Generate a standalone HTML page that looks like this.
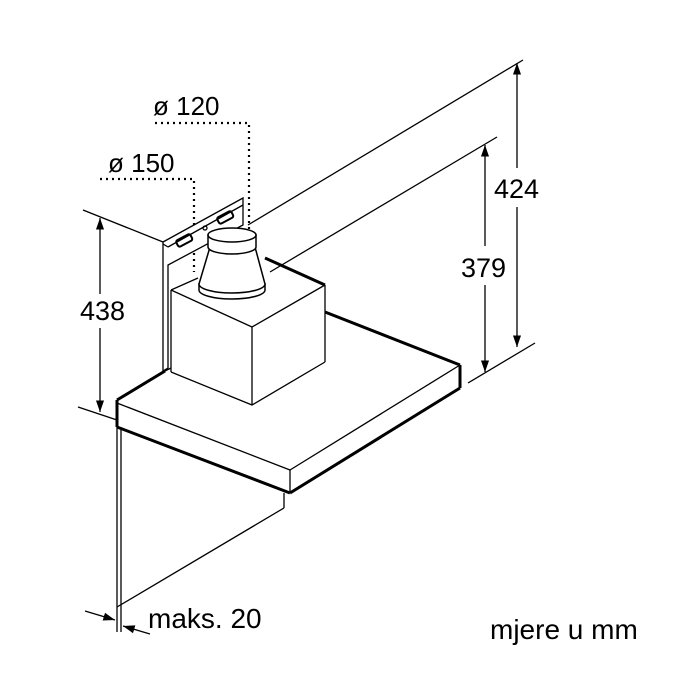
<!DOCTYPE html>
<html><head><style>html,body{margin:0;padding:0;background:#fff}svg{display:block}text{font-family:"Liberation Sans",sans-serif;fill:#000}</style></head>
<body>
<svg width="700" height="700" viewBox="0 0 700 700" xmlns="http://www.w3.org/2000/svg">
<defs>
<marker id="a" viewBox="0 0 10 10" refX="10" refY="5" markerWidth="9" markerHeight="9" orient="auto-start-reverse"><path d="M0,1.5 L10,5 L0,8.5 z" fill="#000"/></marker>
</defs>
<g stroke="#000" fill="none" stroke-width="1.3">
<line x1="83" y1="210" x2="163" y2="242"/>
<line x1="78" y1="407" x2="117" y2="420"/>
<line x1="248" y1="225" x2="523" y2="60"/>
<line x1="270" y1="272" x2="497" y2="137"/>
<line x1="468" y1="383" x2="535" y2="343"/>
<line x1="100" y1="218" x2="100" y2="294" marker-start="url(#a)"/>
<line x1="100" y1="328" x2="100" y2="412" marker-end="url(#a)"/>
<line x1="517" y1="63" x2="517" y2="168" marker-start="url(#a)"/>
<line x1="517" y1="207" x2="517" y2="347" marker-end="url(#a)"/>
<line x1="485" y1="145" x2="485" y2="246" marker-start="url(#a)"/>
<line x1="485" y1="285" x2="485" y2="372" marker-end="url(#a)"/>
<polyline points="155,123 249,123 249,237" stroke-dasharray="2 4" stroke-width="2.2"/>
<polyline points="100,179 194,179 194,272" stroke-dasharray="2 4" stroke-width="2.2"/>
<line x1="117" y1="427" x2="117" y2="632"/>
<line x1="121" y1="427" x2="121" y2="632"/>
<line x1="117" y1="607" x2="284" y2="508"/>
<line x1="284" y1="493" x2="284" y2="508"/>
<line x1="85" y1="611" x2="115" y2="620" marker-end="url(#a)"/>
<line x1="150" y1="634" x2="123" y2="626" marker-end="url(#a)"/>
<line x1="117" y1="403" x2="290" y2="470"/>
<line x1="290" y1="470" x2="460" y2="365"/>
<line x1="290" y1="470" x2="290" y2="493"/>
<line x1="165" y1="371" x2="171" y2="368"/>
<polyline points="171,290 252,327 325,285"/>
<line x1="171" y1="290" x2="198" y2="278"/>
<line x1="171" y1="290" x2="171" y2="372"/>
<line x1="252" y1="327" x2="252" y2="405"/>
<line x1="325" y1="285" x2="325" y2="362"/>
<polyline points="171,372 252,405 325,362"/>
<polygon points="163,242 243,198 243,225 168,265 168,368 163,371" fill="#fff"/>
<line x1="163" y1="244" x2="168" y2="247"/>
<line x1="168" y1="247" x2="243" y2="205"/>
<rect x="176" y="237" width="16" height="7" rx="2" transform="rotate(-28 184 240)" stroke-width="2"/>
<rect x="217" y="214" width="16" height="7" rx="2" transform="rotate(-28 225 217)" stroke-width="2"/>
<circle cx="205" cy="228" r="2"/>
</g>
<g stroke="#000" fill="none" stroke-width="3">
<line x1="117" y1="400" x2="165" y2="371"/>
<line x1="117" y1="400" x2="117" y2="427"/>
<line x1="117" y1="427" x2="290" y2="493"/>
<line x1="290" y1="493" x2="460" y2="388"/>
<line x1="460" y1="365" x2="460" y2="388"/>
<line x1="325" y1="312" x2="460" y2="365"/>
<line x1="265" y1="258" x2="325" y2="285"/>
</g>
<g stroke="#000" stroke-width="1.5" fill="#fff">
<path d="M199,284 L199,290 A33,9 0 0 0 265,290 L265,284 Z"/>
<path d="M210,247 L199,284 A33,9 0 0 0 265,284 L255,247 Z"/>
<path d="M208,235 L208,247 A24,7 0 0 0 256,247 L256,235 Z"/>
<ellipse cx="232" cy="235" rx="24" ry="7"/>
</g>
<text x="80" y="320" font-size="27">438</text>
<text x="494" y="198" font-size="27">424</text>
<text x="461" y="277" font-size="27">379</text>
<text x="153" y="115" font-size="26">ø 120</text>
<text x="108" y="172" font-size="26">ø 150</text>
<text x="148" y="628" font-size="28">maks. 20</text>
<text x="490" y="639" font-size="28">mjere u mm</text>
</svg>
</body></html>
